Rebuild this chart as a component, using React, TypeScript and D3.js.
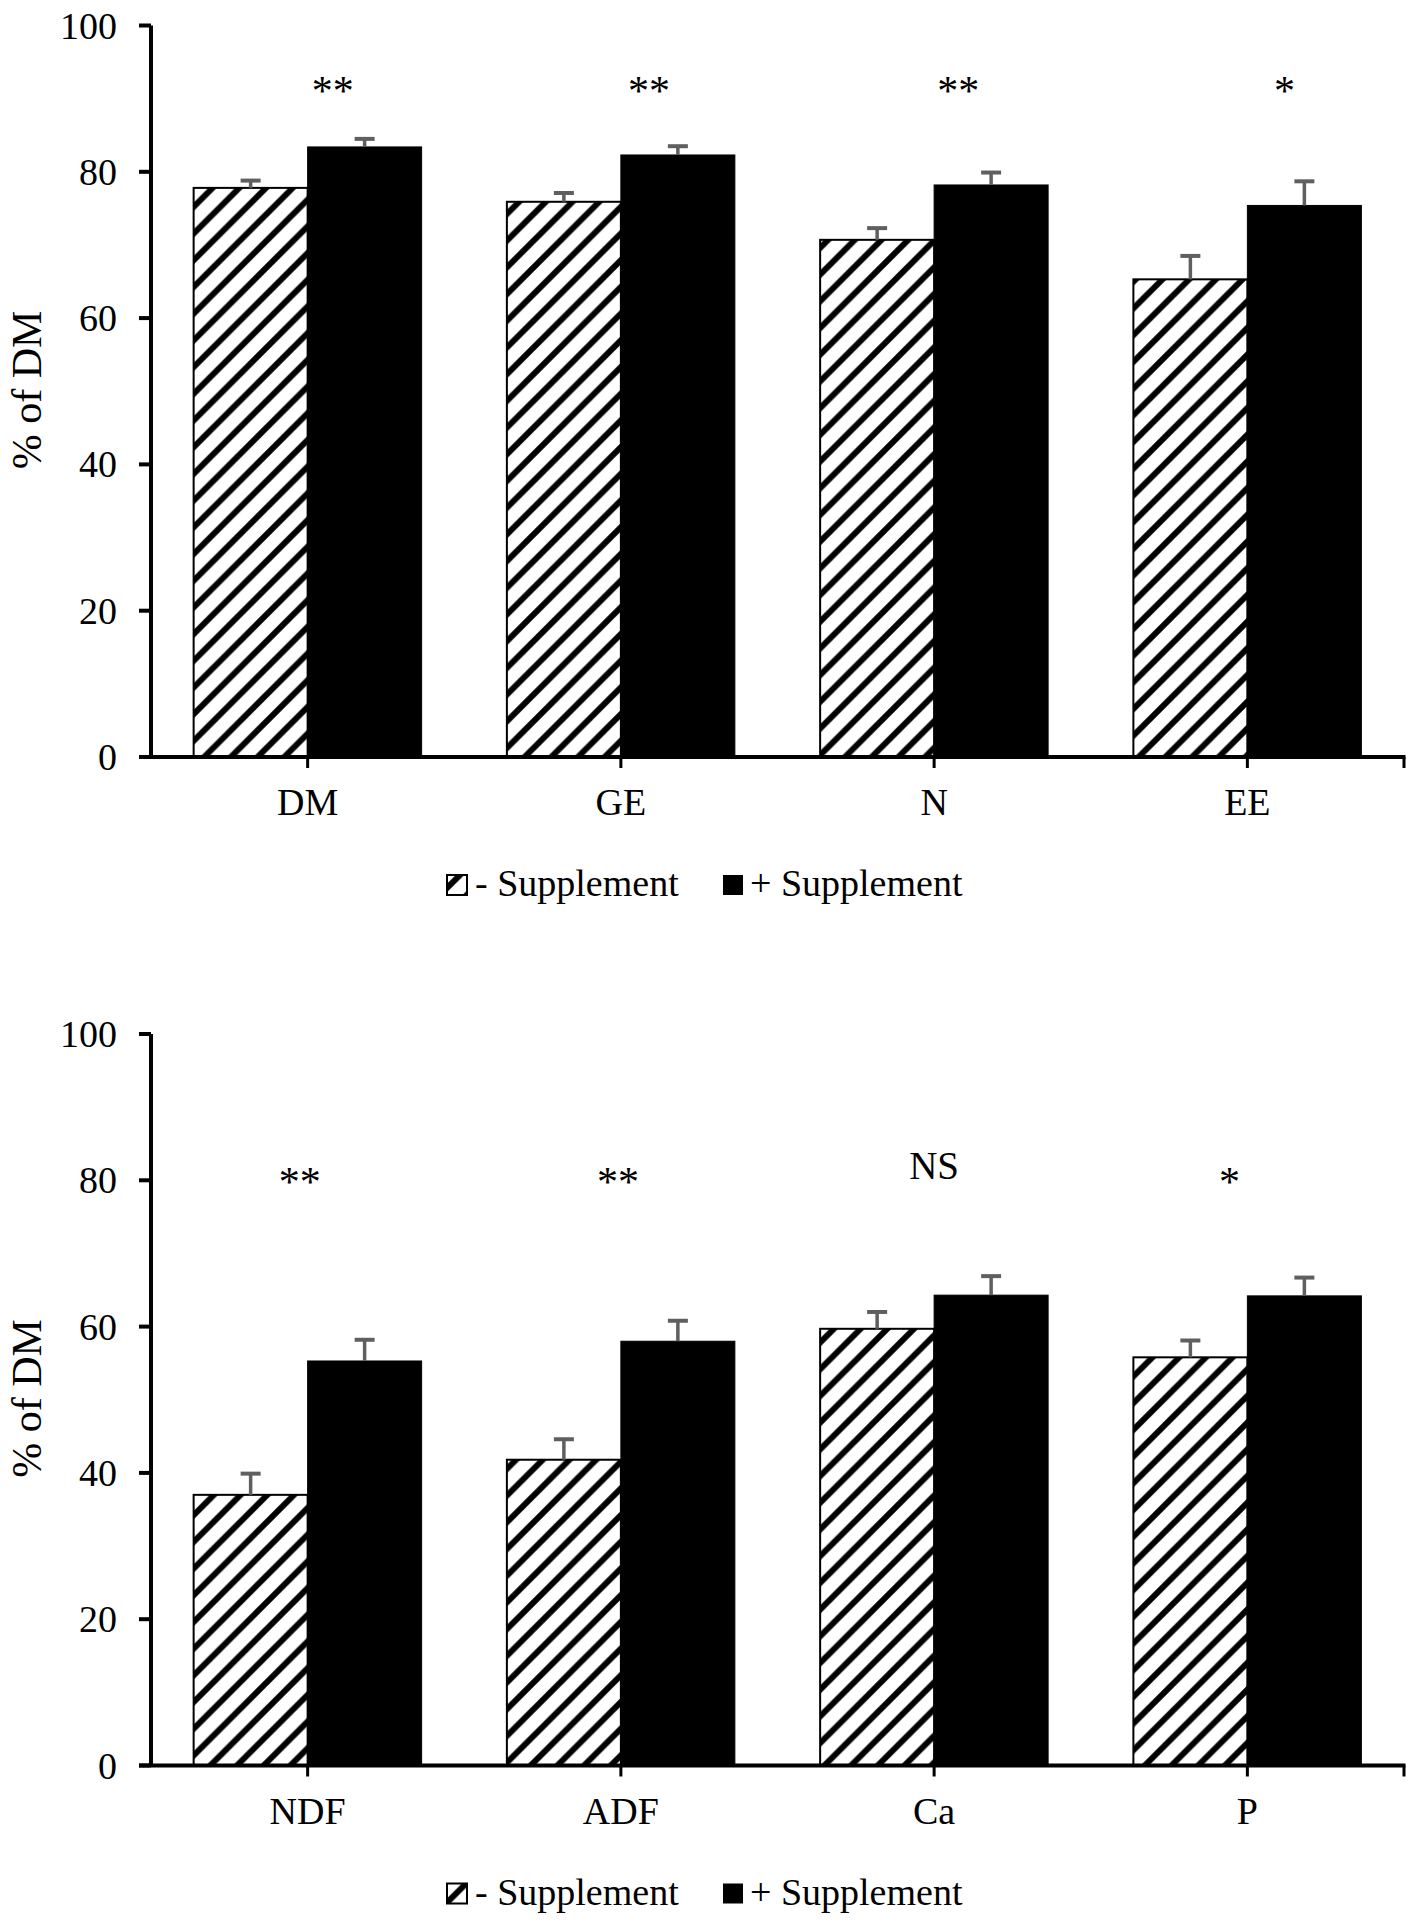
import React from "react";
import * as d3 from "d3";

// ---------- data ----------
const categoriesTop = ["DM", "GE", "N", "EE"];
const minusTop = [77.8, 75.9, 70.7, 65.3];
const minusTopErr = [1.0, 1.2, 1.6, 3.2];
const plusTop = [83.4, 82.3, 78.2, 75.4];
const plusTopErr = [1.1, 1.2, 1.7, 3.3];
const sigTop = ["**", "**", "**", "*"];

const categoriesBottom = ["NDF", "ADF", "Ca", "P"];
const minusBottom = [37.0, 41.8, 59.7, 55.8];
const minusBottomErr = [2.9, 2.8, 2.3, 2.3];
const plusBottom = [55.3, 58.0, 64.3, 64.2];
const plusBottomErr = [2.9, 2.8, 2.6, 2.5];
const sigBottom = ["**", "**", "NS", "*"];

const yTicks = [0, 20, 40, 60, 80, 100];
const seriesNames = ["- Supplement", "+ Supplement"];
const yTitle = "% of DM";

// ---------- layout ----------
const W = 1417;
const H = 1926;
const FONT = "'Liberation Serif', 'Times New Roman', serif";
const X_LEFT = 151;
const X_RIGHT = 1404;
const ERR_COLOR = "#5f5f5f";
const HATCH = 26.7;

type PanelProps = {
  offsetY: number;
  categories: string[];
  minus: number[];
  minusErr: number[];
  plus: number[];
  plusErr: number[];
  sig: string[];
  sigLevel: number;
  sigDx: number[];
};

function Panel(p: PanelProps) {
  const y = d3.scaleLinear().domain([0, 100]).range([p.offsetY + 757, p.offsetY + 25.5]);
  const x0 = d3.scaleBand<string>().domain(p.categories).range([X_LEFT, X_RIGHT]).padding(0);
  const x1 = d3
    .scaleBand<string>()
    .domain(["minus", "plus"])
    .range([0, x0.bandwidth()])
    .paddingInner(0)
    .paddingOuter(0.374);
  const bw = x1.bandwidth();
  const y0 = y(0);

  const rows = p.categories.map((c, i) => ({
    c,
    i,
    items: [
      { key: "minus", v: p.minus[i], e: p.minusErr[i] },
      { key: "plus", v: p.plus[i], e: p.plusErr[i] },
    ],
  }));

  const legendBase = p.offsetY + 896;

  return (
    <g>
      {/* bars */}
      {rows.map((r) => (
        <g key={r.c}>
          {r.items.map((it) => {
            const bx = (x0(r.c) as number) + (x1(it.key) as number);
            const top = y(it.v);
            return (
              <rect
                key={it.key}
                x={bx}
                y={top}
                width={bw}
                height={y0 - top}
                fill={it.key === "minus" ? "url(#hatch)" : "#000"}
                stroke="#000"
                strokeWidth={it.key === "minus" ? 2 : 1}
              />
            );
          })}
          {r.items.map((it) => {
            const cx = (x0(r.c) as number) + (x1(it.key) as number) + bw / 2;
            const top = y(it.v);
            const capY = y(it.v + it.e);
            return (
              <g key={"e" + it.key}>
                <line x1={cx} x2={cx} y1={top} y2={capY} stroke={ERR_COLOR} strokeWidth={3.5} />
                <line x1={cx - 10} x2={cx + 10} y1={capY} y2={capY} stroke={ERR_COLOR} strokeWidth={4} />
              </g>
            );
          })}
        </g>
      ))}

      {/* significance labels */}
      {p.sig.map((s, i) => {
        const cx = (x0(p.categories[i]) as number) + x0.bandwidth() / 2 + p.sigDx[i];
        const isStar = s.indexOf("*") >= 0;
        return (
          <text
            key={"s" + i}
            x={cx}
            y={y(p.sigLevel) + (isStar ? 17 : 0)}
            textAnchor="middle"
            fontFamily={FONT}
            fontSize={isStar ? 42 : 39}
            fill="#000"
          >
            {s}
          </text>
        );
      })}

      {/* y axis */}
      <line x1={X_LEFT} x2={X_LEFT} y1={y(100)} y2={y0} stroke="#000" strokeWidth={4} />
      {yTicks.map((t) => (
        <g key={"yt" + t}>
          <line x1={X_LEFT - 12} x2={X_LEFT} y1={y(t)} y2={y(t)} stroke="#000" strokeWidth={4} />
          <text
            x={117}
            y={y(t) + 13}
            textAnchor="end"
            fontFamily={FONT}
            fontSize={38}
            fill="#000"
          >
            {t}
          </text>
        </g>
      ))}

      {/* x axis */}
      <line x1={X_LEFT - 12} x2={X_RIGHT + 1.5} y1={y0} y2={y0} stroke="#000" strokeWidth={4} />
      {p.categories.map((c) => {
        const cx = (x0(c) as number) + x0.bandwidth() / 2;
        return (
          <g key={"xt" + c}>
            <line x1={cx} x2={cx} y1={y0} y2={y0 + 11} stroke="#000" strokeWidth={3} />
            <text x={cx} y={y0 + 58} textAnchor="middle" fontFamily={FONT} fontSize={38} fill="#000">
              {c}
            </text>
          </g>
        );
      })}
      <line x1={X_RIGHT} x2={X_RIGHT} y1={y0} y2={y0 + 11} stroke="#000" strokeWidth={3} />

      {/* y title */}
      <text
        transform={`translate(41, ${p.offsetY + 390}) rotate(-90)`}
        textAnchor="middle"
        fontFamily={FONT}
        fontSize={42}
        fill="#000"
      >
        {yTitle}
      </text>

      {/* legend */}
      <rect x={447} y={legendBase - 21} width={20} height={20} fill="url(#hatch)" stroke="#000" strokeWidth={2} />
      <text x={475} y={legendBase} fontFamily={FONT} fontSize={38} fill="#000">
        {seriesNames[0]}
      </text>
      <rect x={723} y={legendBase - 21} width={20} height={20} fill="#000" />
      <text x={750} y={legendBase} fontFamily={FONT} fontSize={38} fill="#000">
        {seriesNames[1]}
      </text>
    </g>
  );
}

export default function App() {
  const P = HATCH;
  return (
    <svg
      width={W}
      height={H}
      viewBox={`0 0 ${W} ${H}`}
      style={{ position: "absolute", left: 0, top: 0, background: "#fff" }}
    >
      <defs>
        <pattern id="hatch" patternUnits="userSpaceOnUse" width={P} height={P}>
          <rect width={P} height={P} fill="#fff" />
          <path
            d={`M0,${P} L${P},0 M${-P / 2},${P / 2} L${P / 2},${-P / 2} M${P / 2},${1.5 * P} L${1.5 * P},${P / 2}`}
            stroke="#000"
            strokeWidth={6}
          />
        </pattern>
      </defs>
      <rect width={W} height={H} fill="#fff" />
      <Panel
        offsetY={0}
        categories={categoriesTop}
        minus={minusTop}
        minusErr={minusTopErr}
        plus={plusTop}
        plusErr={plusTopErr}
        sig={sigTop}
        sigLevel={91.5}
        sigDx={[25, 28, 24, 37]}
      />
      <Panel
        offsetY={1008.5}
        categories={categoriesBottom}
        minus={minusBottom}
        minusErr={minusBottomErr}
        plus={plusBottom}
        plusErr={plusBottomErr}
        sig={sigBottom}
        sigLevel={80.2}
        sigDx={[-8, -3, 0, -18]}
      />
    </svg>
  );
}
